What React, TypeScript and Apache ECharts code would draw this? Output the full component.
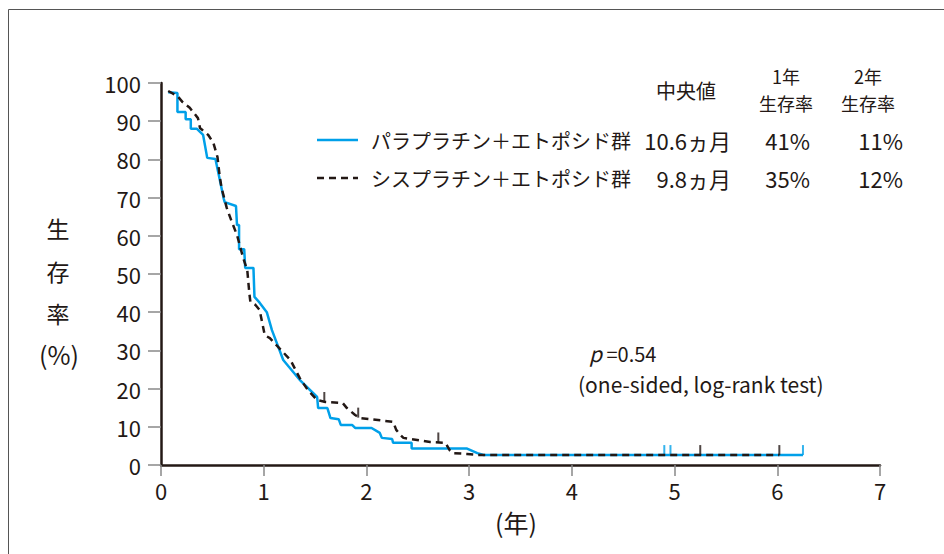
import React, { useEffect, useRef } from "react";
import * as echarts from "echarts";

const FONT = "'Noto Sans CJK JP', 'Noto Sans', sans-serif";
const INK = "#231815";
const BLUE = "#00a0e9";

// x: years, y: survival (%)
const xTicks = [0, 1, 2, 3, 4, 5, 6, 7];
const yTicks = [0, 10, 20, 30, 40, 50, 60, 70, 80, 90, 100];

// Paraplatin + etoposide (solid blue)
const paraTime = [0.07, 0.16, 0.16, 0.24, 0.24, 0.29, 0.29, 0.35, 0.41, 0.45, 0.53, 0.61, 0.62, 0.73, 0.74, 0.76, 0.76, 0.81, 0.82, 0.9, 0.91, 0.96, 1.03, 1.08, 1.19, 1.35, 1.52, 1.53, 1.62, 1.65, 1.73, 1.75, 1.86, 1.89, 2.05, 2.13, 2.15, 2.25, 2.26, 2.44, 2.44, 2.98, 3.08, 3.14, 6.25];
const paraSurv = [97.6, 97.4, 92.4, 92.4, 90.5, 90.5, 88.0, 88.0, 86.4, 80.4, 80.1, 69.8, 68.8, 67.8, 62.8, 62.8, 56.5, 56.5, 51.6, 51.6, 44.0, 42.5, 40.0, 35.3, 27.5, 22.3, 17.8, 14.9, 14.9, 12.3, 12.0, 10.5, 10.5, 9.7, 9.7, 8.4, 7.1, 6.8, 5.8, 5.8, 4.3, 4.3, 3.1, 2.6, 2.6];
const paraCensorTime = [4.9, 4.96, 6.25];
const paraCensorSurv = [2.6, 2.6, 2.6];

// Cisplatin + etoposide (dashed black)
const cisTime = [0.07, 0.16, 0.21, 0.28, 0.36, 0.38, 0.46, 0.51, 0.55, 0.57, 0.59, 0.64, 0.69, 0.74, 0.8, 0.84, 0.86, 0.87, 0.92, 0.96, 1.01, 1.06, 1.14, 1.26, 1.35, 1.43, 1.52, 1.6, 1.77, 1.81, 1.89, 1.94, 2.26, 2.29, 2.33, 2.36, 2.62, 2.77, 2.81, 2.84, 2.98, 3.08, 6.02];
const cisSurv = [97.9, 96.6, 95.0, 93.5, 90.8, 88.2, 86.4, 84.3, 80.6, 75.9, 72.5, 67.3, 63.6, 60.2, 54.2, 51.0, 45.0, 42.7, 41.9, 40.6, 34.0, 33.2, 30.9, 27.5, 22.8, 19.6, 17.0, 16.5, 16.2, 14.9, 13.1, 12.3, 11.3, 9.2, 7.9, 7.1, 6.0, 5.8, 3.9, 3.1, 2.9, 2.6, 2.6];
const cisCensorTime = [1.59, 1.92, 2.7, 5.25, 6.02];
const cisCensorSurv = [16.5, 12.4, 5.9, 2.6, 2.6];

// Legend table
const groupNames = ["パラプラチン＋エトポシド群", "シスプラチン＋エトポシド群"];
const medians = ["10.6ヵ月", "9.8ヵ月"];
const oneYear = ["41%", "35%"];
const twoYear = ["11%", "12%"];
const headers = ["中央値", "1年", "生存率", "2年", "生存率"];
const pValueText = "=0.54";
const testText = "(one-sided, log-rank test)";
const yName = ["生", "存", "率", "(%)"];
const xName = "(年)";

const zip = (a: number[], b: number[]) => a.map((v, i) => [v, b[i]]);

export default function App() {
  const ref = useRef<HTMLDivElement>(null);
  useEffect(() => {
    document.body.style.margin = "0";
    if (!ref.current) return;
    const chart = echarts.init(ref.current, undefined, { renderer: "svg" });
    const txt = (text: string, x: number, y: number, fontSize: number, align = "left", extra: any = {}) => ({
      type: "text",
      x,
      y,
      silent: true,
      style: { text, fontSize, fontFamily: FONT, fill: INK, align, verticalAlign: "middle", lineHeight: fontSize, ...extra },
    });
    const rows = [140, 178];
    const graphic: any[] = [
      { type: "rect", silent: true, shape: { x: 8.5, y: 9.5, width: 1000, height: 1000 }, style: { fill: "none", stroke: "#555", lineWidth: 1 } },
      txt(headers[0], 686, 90, 20, "center"),
      txt(headers[1], 786, 76, 18, "center"),
      txt(headers[2], 786, 103, 18, "center"),
      txt(headers[3], 868, 76, 18, "center"),
      txt(headers[4], 868, 103, 18, "center"),
      { type: "line", silent: true, shape: { x1: 317, y1: rows[0], x2: 358, y2: rows[0] }, style: { stroke: BLUE, lineWidth: 2.5 } },
      { type: "line", silent: true, shape: { x1: 317, y1: rows[1], x2: 358, y2: rows[1] }, style: { stroke: INK, lineWidth: 2.5, lineDash: [7, 5] } },
      txt(yName[0], 58, 228, 23, "center"),
      txt(yName[1], 58, 271, 23, "center"),
      txt(yName[2], 58, 313, 23, "center"),
      txt(yName[3], 59, 354, 25, "center"),
      txt(xName, 516, 522, 25, "center"),
      {
        type: "text",
        x: 589,
        y: 353,
        silent: true,
        style: {
          text: "{i|p}{n| " + pValueText + "}",
          verticalAlign: "middle",
          rich: {
            i: { fontSize: 21, fontStyle: "italic", fontFamily: FONT, fill: INK },
            n: { fontSize: 20, fontFamily: FONT, fill: INK },
          },
        },
      },
      txt(testText, 578, 384, 21, "left"),
    ];
    rows.forEach((y, i) => {
      graphic.push(txt(groupNames[i], 371, y, 20, "left"));
      graphic.push(txt(medians[i], 731, y, 22, "right"));
      graphic.push(txt(oneYear[i], 810, y, 22, "right"));
      graphic.push(txt(twoYear[i], 903, y, 22, "right"));
    });

    const axisCommon = {
      type: "value",
      axisLine: { show: true, lineStyle: { color: INK, width: 2.5 } },
      splitLine: { show: false },
    };
    chart.setOption({
      animation: false,
      grid: { left: 161, right: 64, top: 83, bottom: 89 },
      xAxis: {
        ...axisCommon,
        min: xTicks[0],
        max: xTicks[xTicks.length - 1],
        interval: 1,
        axisTick: { show: true, length: 11, lineStyle: { color: "#888", width: 1.5 } },
        axisLabel: { margin: 14, fontSize: 22, color: INK, fontFamily: FONT },
      },
      yAxis: {
        ...axisCommon,
        min: yTicks[0],
        max: yTicks[yTicks.length - 1],
        interval: 10,
        axisTick: { show: true, length: 13, lineStyle: { color: "#888", width: 1.5 } },
        axisLabel: { margin: 20, fontSize: 22, color: INK, fontFamily: FONT },
      },
      graphic,
      series: [
        {
          type: "line",
          data: zip(paraTime, paraSurv),
          showSymbol: false,
          silent: true,
          z: 2,
          lineStyle: { color: BLUE, width: 2.5 },
        },
        {
          type: "scatter",
          data: zip(paraCensorTime, paraCensorSurv),
          symbol: "rect",
          symbolSize: [2, 10],
          symbolOffset: [0, -5],
          silent: true,
          z: 2,
          itemStyle: { color: BLUE },
        },
        {
          type: "line",
          data: zip(cisTime, cisSurv),
          showSymbol: false,
          silent: true,
          z: 3,
          lineStyle: { color: INK, width: 2.5, type: [7, 5] },
        },
        {
          type: "scatter",
          data: zip(cisCensorTime, cisCensorSurv),
          symbol: "rect",
          symbolSize: [2, 10],
          symbolOffset: [0, -5],
          silent: true,
          z: 3,
          itemStyle: { color: INK },
        },
      ],
    });
    return () => chart.dispose();
  }, []);
  return <div ref={ref} style={{ width: 944, height: 554 }} />;
}
